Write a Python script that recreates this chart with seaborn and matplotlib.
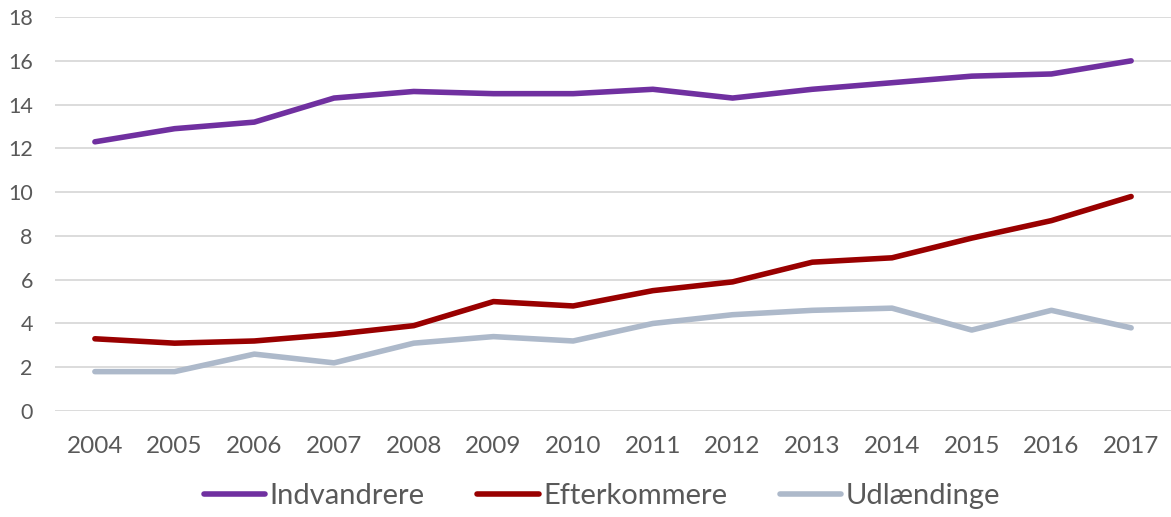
import numpy as np
import pandas as pd
import matplotlib
matplotlib.use("Agg")
import matplotlib.pyplot as plt
import seaborn as sns

years = [str(y) for y in range(2004, 2018)]
indvandrere = [12.3, 12.9, 13.2, 14.3, 14.6, 14.5, 14.5, 14.7, 14.3, 14.7, 15.0, 15.3, 15.4, 16.0]
efterkommere = [3.3, 3.1, 3.2, 3.5, 3.9, 5.0, 4.8, 5.5, 5.9, 6.8, 7.0, 7.9, 8.7, 9.8]
udlaendinge = [1.8, 1.8, 2.6, 2.2, 3.1, 3.4, 3.2, 4.0, 4.4, 4.6, 4.7, 3.7, 4.6, 3.8]
series_names = ["Indvandrere", "Efterkommere", "Udlændinge"]
colors = ["#7030A0", "#990000", "#ADB9CA"]

df = pd.DataFrame({"År": years,
                   "Indvandrere": indvandrere,
                   "Efterkommere": efterkommere,
                   "Udlændinge": udlaendinge})
long = df.melt(id_vars="År", var_name="Gruppe", value_name="Andel")

sns.set_style("white")
plt.rcParams['font.family'] = ['Lato', 'DejaVu Sans']

fig = plt.figure(figsize=(11.71, 5.17), dpi=100)
ax = fig.add_axes([0.047, 0.205, 0.953, 0.762])

sns.lineplot(data=long, x="År", y="Andel", hue="Gruppe", hue_order=series_names,
             palette=colors, linewidth=4.0, ax=ax, sort=False,
             solid_capstyle="round", solid_joinstyle="round")

ax.set_ylim(0, 18)
ax.set_yticks(np.arange(0, 19, 2))
ax.set_xlim(-0.5, len(years) - 0.5)
ax.yaxis.grid(True, color="#D9D9D9", linewidth=1.3)
ax.set_axisbelow(True)
for s in ax.spines.values():
    s.set_visible(False)
ax.set_xlabel("")
ax.set_ylabel("")
ax.tick_params(axis="both", length=0, labelcolor="#595959")
ax.tick_params(axis="x", pad=18, labelsize=17.5)
ax.tick_params(axis="y", pad=16, labelsize=15.5)

handles, labels = ax.get_legend_handles_labels()
ax.get_legend().remove()
for h in handles:
    h.set_solid_capstyle("round")
fig.legend(handles, labels, loc="center", bbox_to_anchor=(0.514, 0.04),
           ncol=3, frameon=False, fontsize=21, handlelength=2.1,
           columnspacing=1.8, handletextpad=0.15, labelcolor="#595959")

fig.savefig("out.png", dpi=100)
